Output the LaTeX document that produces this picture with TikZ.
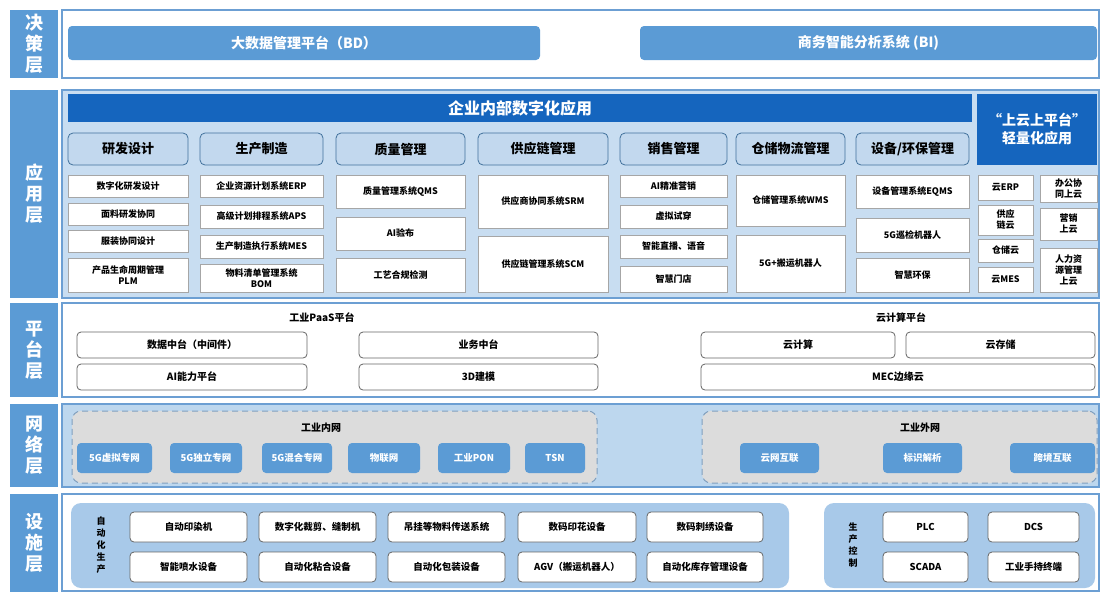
\documentclass[tikz,border=0pt]{standalone}
\usepackage{fontspec}
\setmainfont{Noto Sans CJK SC}
\definecolor{lblue}{HTML}{5B9BD5}
\definecolor{pborder}{HTML}{6C9FD3}
\definecolor{appfill}{HTML}{C8DDF1}
\definecolor{netfill}{HTML}{BDD7EE}
\definecolor{darkb}{HTML}{1565BE}
\definecolor{catfill}{HTML}{C2D8EE}
\definecolor{catborder}{HTML}{41719C}
\definecolor{gfill}{HTML}{DCDCDC}
\definecolor{zoneb}{HTML}{7F9FBF}
\definecolor{infrafill}{HTML}{A8C9E9}
\newcommand\mkbox[7]{\node[#6, inner sep=0pt, outer sep=0pt, minimum width={(#4-#2)*1pt}, minimum height={(#5-#3)*1pt}] (#1) at ({(#2+#4)/2},{(#3+#5)/2}) {#7};}
\tikzset{
 layerlbl/.style={fill=lblue, text=white, font=\fontsize{18}{21}\selectfont\bfseries, align=center},
 panel/.style={draw=pborder, line width=1.6pt},
 topbtn/.style={fill=lblue, rounded corners=4pt, text=white, font=\fontsize{14}{16}\selectfont\bfseries},
 header/.style={fill=darkb, text=white, font=\fontsize{16}{18}\selectfont\bfseries, align=center},
 cat/.style={draw=catborder, fill=catfill, rounded corners=5pt, line width=0.8pt, font=\fontsize{13}{15}\selectfont\bfseries},
 item/.style={draw=gray!70, fill=white, line width=0.8pt, font=\fontsize{9}{11}\selectfont\bfseries, align=center},
 plat/.style={draw=gray!80!black, fill=white, rounded corners=4pt, line width=0.8pt, font=\fontsize{10}{12}\selectfont\bfseries},
 netbtn/.style={fill=lblue, rounded corners=4pt, text=white, font=\fontsize{9.5}{11}\selectfont\bfseries},
 zone/.style={fill=gfill, draw=zoneb, dash pattern=on 6pt off 4pt, rounded corners=9pt, line width=1pt},
 devzone/.style={fill=infrafill, rounded corners=10pt},
 dev/.style={draw=gray!80!black, fill=white, rounded corners=4pt, line width=0.8pt, font=\fontsize{9.5}{11}\selectfont\bfseries},
 ttl/.style={font=\fontsize{10}{12}\selectfont\bfseries},
 vtxt/.style={font=\fontsize{9}{12}\selectfont\bfseries, align=center},
}
\begin{document}
\begin{tikzpicture}[x=1pt,y=-1pt]
\useasboundingbox (0,0) rectangle (1102,592);
\fill[white] (0,0) rectangle (1102,592);
% layer labels
\mkbox{L1}{10}{10}{58}{78}{layerlbl}{决\\策\\层}
\mkbox{L2}{10}{90}{58}{298}{layerlbl}{应\\用\\层}
\mkbox{L3}{10}{303}{58}{397}{layerlbl}{平\\台\\层}
\mkbox{L4}{10}{404}{58}{487}{layerlbl}{网\\络\\层}
\mkbox{L5}{10}{494}{58}{592}{layerlbl}{设\\施\\层}
% panels
\mkbox{P1}{62}{10}{1099}{78}{panel, fill=white}{}
\mkbox{P2}{62}{90}{1099}{298}{panel, fill=appfill}{}
\mkbox{P3}{62}{303}{1099}{397}{panel, fill=white}{}
\mkbox{P4}{62}{404}{1099}{487}{panel, fill=netfill}{}
\mkbox{P5}{62}{494}{1099}{591}{panel, fill=white}{}
% decision layer
\mkbox{bd}{68}{26}{540}{60}{topbtn}{大数据管理平台（BD）}
\mkbox{bi}{640}{26}{1097}{60}{topbtn}{商务智能分析系统 (BI)}
% application layer
\mkbox{hdr}{68}{94}{972}{122}{header}{企业内部数字化应用}
\mkbox{cloudhdr}{977}{94}{1097}{165}{header, font=\fontsize{14}{18}\selectfont\bfseries}{“上云上平台”\\轻量化应用}
\mkbox{c1}{68}{133}{188}{165}{cat}{研发设计}
\mkbox{c2}{200}{133}{323}{165}{cat}{生产制造}
\mkbox{c3}{336}{133}{465}{165}{cat}{质量管理}
\mkbox{c4}{478}{133}{608}{165}{cat}{供应链管理}
\mkbox{c5}{620}{133}{727}{165}{cat}{销售管理}
\mkbox{c6}{736}{133}{845}{165}{cat}{仓储物流管理}
\mkbox{c7}{856}{133}{969}{165}{cat}{设备/环保管理}
% column 1
\mkbox{a11}{68}{175}{188}{197}{item}{数字化研发设计}
\mkbox{a12}{68}{203}{188}{225}{item}{面料研发协同}
\mkbox{a13}{68}{230}{188}{252}{item}{服装协同设计}
\mkbox{a14}{68}{258}{188}{292}{item}{产品生命周期管理\\PLM}
% column 2
\mkbox{a21}{200}{175}{323}{197}{item}{企业资源计划系统ERP}
\mkbox{a22}{200}{205}{323}{228}{item}{高级计划排程系统APS}
\mkbox{a23}{200}{235}{323}{258}{item}{生产制造执行系统MES}
\mkbox{a24}{200}{264}{323}{292}{item}{物料清单管理系统\\BOM}
% column 3
\mkbox{a31}{336}{175}{465}{208}{item}{质量管理系统QMS}
\mkbox{a32}{336}{217}{465}{250}{item}{AI验布}
\mkbox{a33}{336}{258}{465}{292}{item}{工艺合规检测}
% column 4
\mkbox{a41}{478}{175}{608}{228}{item}{供应商协同系统SRM}
\mkbox{a42}{478}{236}{608}{292}{item}{供应链管理系统SCM}
% column 5
\mkbox{a51}{620}{175}{727}{197}{item}{AI精准营销}
\mkbox{a52}{620}{205}{727}{228}{item}{虚拟试穿}
\mkbox{a53}{620}{235}{727}{258}{item}{智能直播、语音}
\mkbox{a54}{620}{266}{727}{292}{item}{智慧门店}
% column 6
\mkbox{a61}{736}{175}{845}{226}{item}{仓储管理系统WMS}
\mkbox{a62}{736}{235}{845}{292}{item}{5G+搬运机器人}
% column 7
\mkbox{a71}{856}{175}{969}{208}{item}{设备管理系统EQMS}
\mkbox{a72}{856}{218}{969}{252}{item}{5G巡检机器人}
\mkbox{a73}{856}{258}{969}{292}{item}{智慧环保}
% cloud apps
\mkbox{k11}{978}{175}{1033}{200}{item}{云ERP}
\mkbox{k12}{978}{205}{1033}{235}{item}{供应\\链云}
\mkbox{k13}{978}{239}{1033}{262}{item}{仓储云}
\mkbox{k14}{978}{267}{1033}{292}{item}{云MES}
\mkbox{k21}{1040}{175}{1097}{202}{item}{办公协\\同上云}
\mkbox{k22}{1040}{208}{1097}{240}{item}{营销\\上云}
\mkbox{k23}{1040}{248}{1097}{292}{item}{人力资\\源管理\\上云}
% platform layer
\node[ttl] (paas) at (322,318) {工业PaaS平台};
\node[ttl] (cloudp) at (901,318) {云计算平台};
\mkbox{p1}{77}{332}{307}{358}{plat}{数据中台（中间件）}
\mkbox{p2}{77}{364}{307}{390}{plat}{AI能力平台}
\mkbox{p3}{359}{332}{598}{358}{plat}{业务中台}
\mkbox{p4}{359}{364}{598}{390}{plat}{3D建模}
\mkbox{p5}{701}{332}{895}{358}{plat}{云计算}
\mkbox{p6}{906}{332}{1095}{358}{plat}{云存储}
\mkbox{p7}{701}{364}{1095}{390}{plat}{MEC边缘云}
% network layer
\mkbox{z1}{72}{411}{597}{483}{zone}{}
\mkbox{z2}{702}{411}{1097}{483}{zone}{}
\node[ttl] (inn) at (321,428) {工业内网};
\node[ttl] (out) at (920,428) {工业外网};
\mkbox{n1}{77}{443}{152}{473}{netbtn}{5G虚拟专网}
\mkbox{n2}{170}{443}{242}{473}{netbtn}{5G独立专网}
\mkbox{n3}{262}{443}{332}{473}{netbtn}{5G混合专网}
\mkbox{n4}{348}{443}{420}{473}{netbtn}{物联网}
\mkbox{n5}{438}{443}{510}{473}{netbtn}{工业PON}
\mkbox{n6}{525}{443}{585}{473}{netbtn}{TSN}
\mkbox{n7}{740}{443}{819}{473}{netbtn}{云网互联}
\mkbox{n8}{883}{443}{962}{473}{netbtn}{标识解析}
\mkbox{n9}{1010}{443}{1095}{473}{netbtn}{跨境互联}
% infrastructure layer
\mkbox{d1}{71}{503}{789}{588}{devzone}{}
\mkbox{d2}{824}{503}{1095}{588}{devzone}{}
\node[vtxt] (autol) at (101,545) {自\\动\\化\\生\\产};
\node[vtxt] (ctrll) at (853,545) {生\\产\\控\\制};
\mkbox{e11}{130}{512}{247}{542}{dev}{自动印染机}
\mkbox{e12}{259}{512}{376}{542}{dev}{数字化裁剪、缝制机}
\mkbox{e13}{388}{512}{505}{542}{dev}{吊挂等物料传送系统}
\mkbox{e14}{518}{512}{636}{542}{dev}{数码印花设备}
\mkbox{e15}{647}{512}{763}{542}{dev}{数码刺绣设备}
\mkbox{e21}{130}{552}{247}{582}{dev}{智能喷水设备}
\mkbox{e22}{259}{552}{376}{582}{dev}{自动化粘合设备}
\mkbox{e23}{388}{552}{505}{582}{dev}{自动化包装设备}
\mkbox{e24}{518}{552}{636}{582}{dev}{AGV（搬运机器人）}
\mkbox{e25}{647}{552}{763}{582}{dev}{自动化库存管理设备}
\mkbox{f1}{883}{512}{968}{542}{dev}{PLC}
\mkbox{f2}{988}{512}{1079}{542}{dev}{DCS}
\mkbox{f3}{883}{552}{968}{582}{dev}{SCADA}
\mkbox{f4}{988}{552}{1079}{582}{dev}{工业手持终端}
\end{tikzpicture}
\end{document}
